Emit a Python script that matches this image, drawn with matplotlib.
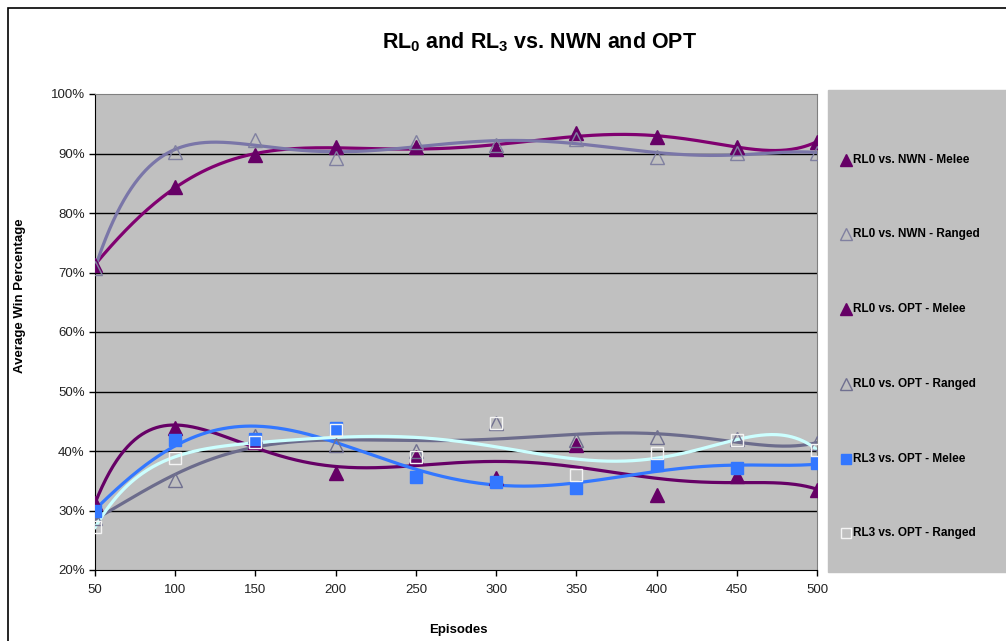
import numpy as np
import matplotlib
matplotlib.use("Agg")
import matplotlib.pyplot as plt
from matplotlib.patches import Rectangle
from matplotlib.lines import Line2D

plt.rcParams['font.family'] = ['Liberation Sans', 'DejaVu Sans']
plt.rcParams['mathtext.fontset'] = 'custom'
plt.rcParams['mathtext.rm'] = 'Liberation Sans:bold'
plt.rcParams['mathtext.default'] = 'rm'

episodes = [50, 100, 150, 200, 250, 300, 350, 400, 450, 500]

rl0_nwn_melee = [71.3, 84.4, 89.7, 91.1, 91.1, 90.8, 93.4, 92.8, 91.1, 92.0]
rl0_nwn_ranged = [70.8, 90.3, 92.3, 89.2, 91.9, 91.5, 92.5, 89.4, 90.1, 90.1]
rl0_opt_melee = [31.3, 43.9, 41.5, 36.3, 39.0, 35.5, 41.0, 32.6, 35.8, 33.4]
rl0_opt_ranged = [28.7, 35.1, 42.5, 41.0, 40.0, 44.7, 41.8, 42.4, 42.0, 41.3]
rl3_opt_melee = [30.0, 41.8, 42.0, 43.9, 35.6, 34.8, 33.8, 37.6, 37.1, 37.9]
rl3_opt_ranged = [27.2, 38.8, 41.5, 43.5, 39.0, 44.7, 36.0, 39.7, 41.8, 40.2]

labels = ["RL0 vs. NWN - Melee", "RL0 vs. NWN - Ranged", "RL0 vs. OPT - Melee",
          "RL0 vs. OPT - Ranged", "RL3 vs. OPT - Melee", "RL3 vs. OPT - Ranged"]

# (data, line colour, marker, marker face, marker edge)
series = [
    (rl0_nwn_melee, '#800070', '^', '#660066', '#660066'),
    (rl0_nwn_ranged, '#7a76a8', '^', 'none', '#8080a0'),
    (rl0_opt_melee, '#660066', '^', '#660066', '#660066'),
    (rl0_opt_ranged, '#6c6c8c', '^', 'none', '#707090'),
    (rl3_opt_melee, '#3377ff', 's', '#3377ff', '#3377ff'),
    (rl3_opt_ranged, '#ccffff', 's', 'none', '#f4f4f4'),
]

W, H = 1006, 641
fig = plt.figure(figsize=(W / 100, H / 100), dpi=100)
fig.patches.append(Rectangle((8 / W, -0.01), 1.05, 1 - 8 / H + 0.01, transform=fig.transFigure,
                             fill=False, edgecolor='black', lw=1.2))

ax = fig.add_axes([95 / W, 1 - 570 / H, (817 - 95) / W, (570 - 94) / H])
ax.set_facecolor('#c0c0c0')

x = np.array(episodes, dtype=float)
xs = np.linspace(50, 500, 400)
t = (x - 275) / 225
ts = (xs - 275) / 225

# polynomial trendlines (order 6) plus the raw points
for vals, lc, m, mf, me in series:
    v = np.array(vals)
    coef = np.polyfit(t, v, 6)
    ax.plot(xs, np.polyval(coef, ts), color=lc, lw=2.3, zorder=3)
for vals, lc, m, mf, me in series:
    ax.plot(x, vals, ls='none', marker=m, ms=10 if m == '^' else 8.5,
            markerfacecolor=mf, markeredgecolor=me, mew=1.0, zorder=4)

ax.set_xlim(50, 500)
ax.set_ylim(20, 100)
ax.set_xticks(episodes)
ax.set_yticks(range(20, 101, 10))
ax.set_yticklabels([f"{v}%" for v in range(20, 101, 10)])
for yv in range(30, 100, 10):
    ax.axhline(yv, color='black', lw=1.0, zorder=1)

for s in ['top', 'right']:
    ax.spines[s].set_color('#808080')
for s in ['left', 'bottom']:
    ax.spines[s].set_color('black')
ax.tick_params(direction='out', length=4, width=1, colors='black', labelcolor='#222222',
               labelsize=9.5)
ax.tick_params(axis='x', pad=6)

fig.text(458 / W, 1 - 630 / H, "Episodes", ha='center', va='center',
         fontsize=9.5, fontweight='bold')
fig.text(20 / W, 1 - 296 / H, "Average Win Percentage", ha='center', va='center',
         rotation=90, fontsize=9.5, fontweight='bold')
fig.text(540 / W, 1 - 42 / H, r"RL$_0$ and RL$_3$ vs. NWN and OPT", ha='center', va='center',
         fontsize=15.5, fontweight='bold')

# legend box
fig.patches.append(Rectangle((828 / W, 1 - 572 / H), 0.2, (572 - 90) / H,
                             transform=fig.transFigure, facecolor='#c0c0c0',
                             edgecolor='#c0c0c0', zorder=0))
leg_y = [160, 234, 309, 384, 459, 533]
for (vals, lc, m, mf, me), lab, yy in zip(series, labels, leg_y):
    fig.add_artist(Line2D([846 / W], [1 - yy / H], marker=m, ms=8 if m == '^' else 7,
                          markerfacecolor=mf, markeredgecolor=me, transform=fig.transFigure))
    fig.text(853 / W, 1 - yy / H, lab, fontsize=8.5, fontweight='bold', va='center')

fig.savefig("out.png", dpi=100)
